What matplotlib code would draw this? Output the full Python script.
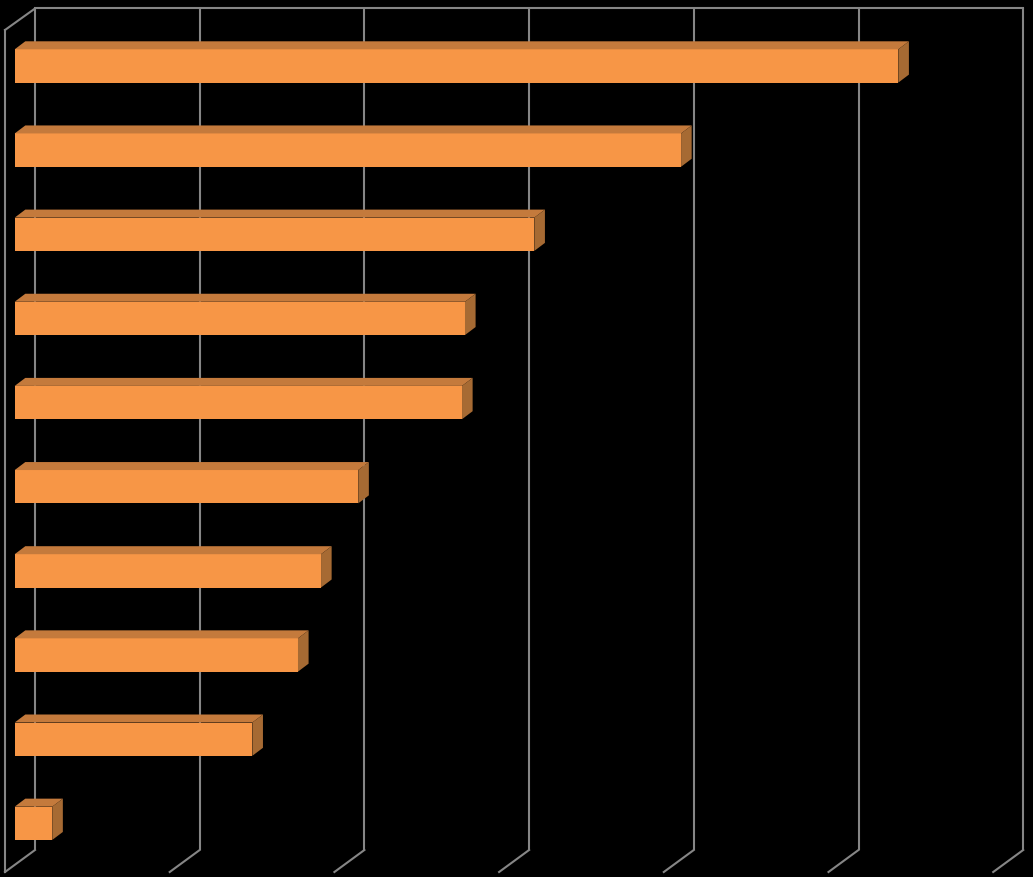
import matplotlib
matplotlib.use("Agg")
import matplotlib.pyplot as plt
from matplotlib.patches import Polygon

# Data (top to bottom), in grid units (gridlines at 0..6, no labels shown)
categories = [f"Item {i}" for i in range(1, 11)]
values = [5.365, 4.046, 3.155, 2.734, 2.716, 2.086, 1.860, 1.720, 1.443, 0.228]
grid_ticks = [0, 1, 2, 3, 4, 5, 6]

W, H = 1033, 877
fig = plt.figure(figsize=(W / 100, H / 100), dpi=100, facecolor="black")
ax = fig.add_axes([0, 0, 1, 1])
ax.set_facecolor("black")
ax.axis("off")

# pixel geometry of the oblique projection
X0 = 14.7       # bar front plane zero (px)
SX = 164.7      # px per unit
Y0 = 65.95      # first bar centre (px)
SY = 84.15      # px per category
ax.set_xlim(-X0 / SX, (W - X0) / SX)
ax.set_ylim((H - Y0) / SY, -Y0 / SY)

def px(x):
    return (x - X0) / SX

def py(y):
    return (y - Y0) / SY

gcol = "#868686"
lw = 1.5
# back wall gridlines and floor diagonals
for k in grid_ticks:
    xb = 35 + k * SX - X0 + X0  # back plane x px
    xb = 35 + k * (SX)
    xf = 5 + k * (SX)
    ax.plot([px(xb), px(xb)], [py(8.5), py(850)], color=gcol, lw=lw, zorder=1,
            solid_capstyle="butt")
    ax.plot([px(xf), px(xb)], [py(872), py(850)], color=gcol, lw=lw, zorder=1)
# back wall top edge
ax.plot([px(35), px(35 + 6 * SX)], [py(8.5), py(8.5)], color=gcol, lw=lw, zorder=1)
# left wall
ax.plot([px(5), px(5)], [py(30), py(872)], color=gcol, lw=lw, zorder=1)
ax.plot([px(5), px(35)], [py(30), py(8.5)], color=gcol, lw=lw, zorder=1)

# bars
front = "#F79646"
top = "#C47A3C"
side = "#A66A33"
h = 33.3 / SY
dx = 10.6 / SX
dy = -8.0 / SY
ys = list(range(len(values)))
ax.barh(ys, values, height=h, left=0, color=front, zorder=3)
for y, v in zip(ys, values):
    yt = y - h / 2
    yb = y + h / 2
    ax.add_patch(Polygon([(0, yt), (v, yt), (v + dx, yt + dy), (dx, yt + dy)],
                         closed=True, facecolor=top, edgecolor="none", zorder=3))
    ax.add_patch(Polygon([(v, yt), (v + dx, yt + dy), (v + dx, yb + dy), (v, yb)],
                         closed=True, facecolor=side, edgecolor="none", zorder=3))

fig.savefig("out.png", dpi=100, facecolor="black")
